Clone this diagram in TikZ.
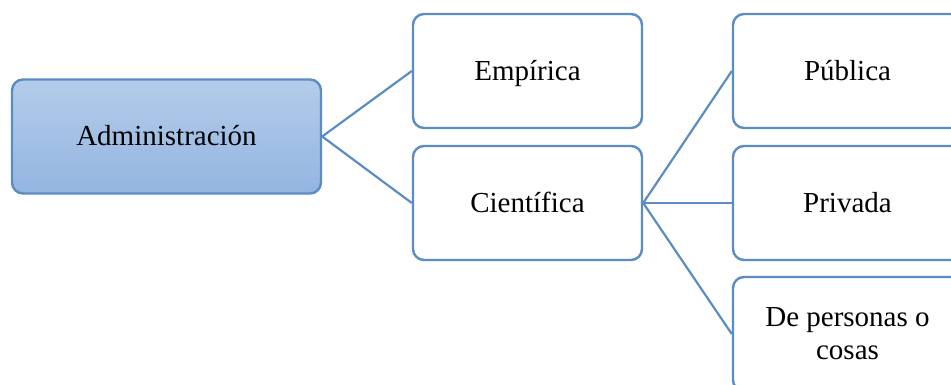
\documentclass[tikz,border=0pt]{standalone}
\usepackage{fontspec}
\setmainfont{Liberation Serif}
\begin{document}
\begin{tikzpicture}[x=1pt,y=-1pt,
  every node/.style={font=\fontsize{29}{33}\selectfont, text=black},
  box/.style={draw=boxblue, line width=2.4pt, rounded corners=11pt, fill=white,
    minimum width=229pt, minimum height=114pt, align=center, inner sep=0pt},
  oneline/.style={text height=19pt, text depth=0pt},
  rootbox/.style={box, oneline, minimum width=309pt, top color=topblue, bottom color=botblue},
  link/.style={draw=boxblue, line width=2.2pt}]
\definecolor{boxblue}{HTML}{5B8CC4}
\definecolor{topblue}{HTML}{B3CCEA}
\definecolor{botblue}{HTML}{94B5E1}
\useasboundingbox (0,0) rectangle (951,385);
\clip (0,0) rectangle (951,385);
% tree nodes
\node[rootbox] (adm) at (166.5,136.5) {Administración};
\node[box, oneline] (emp) at (527.5,71) {Empírica};
\node[box, oneline] (cie) at (527.5,203) {Científica};
\node[box, oneline] (pub) at (847.5,71) {Pública};
\node[box, oneline] (pri) at (847.5,203) {Privada};
\node[box] (per) at (847.5,334) {De personas o\\cosas};
% connectors
\draw[link] (adm.east) -- (emp.west);
\draw[link] (adm.east) -- (cie.west);
\draw[link] (cie.east) -- (pub.west);
\draw[link] (cie.east) -- (pri.west);
\draw[link] (cie.east) -- (per.west);
\end{tikzpicture}
\end{document}
